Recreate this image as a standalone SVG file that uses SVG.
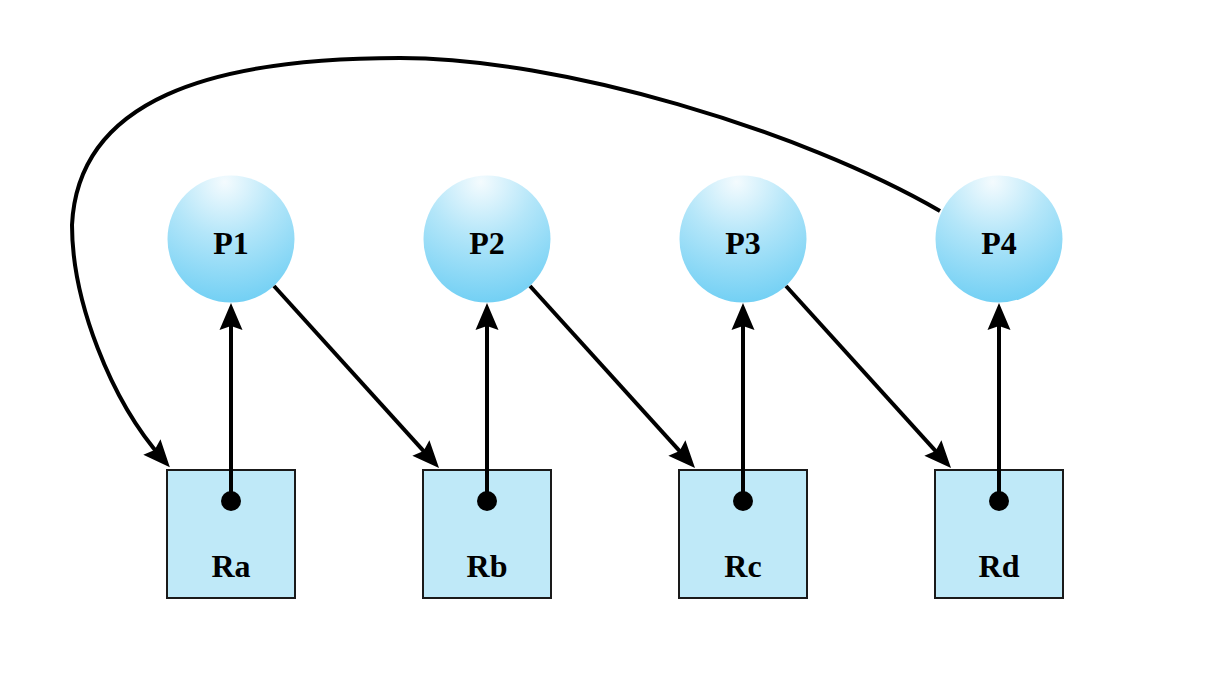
<svg xmlns="http://www.w3.org/2000/svg" width="1206" height="695" viewBox="0 0 1206 695">
<style>
.proc{fill:url(#ball)}
.res{fill:#bfe9f8;stroke:#1a1a1a;stroke-width:2}
.lbl{font-family:"Liberation Serif","Times New Roman",serif;font-weight:bold;font-size:32px;fill:#000;text-anchor:middle}
.edge{fill:none;stroke:#000;stroke-width:4;marker-end:url(#arr)}
.dot{fill:#000}
</style>
<defs>
<radialGradient id="ball" cx="0.45" cy="0.05" r="0.95" fx="0.45" fy="0.05">
<stop offset="0" stop-color="#f4fbfe"/>
<stop offset="0.45" stop-color="#b4e6f9"/>
<stop offset="1" stop-color="#73d0f4"/>
</radialGradient>
<marker id="arr" markerUnits="userSpaceOnUse" viewBox="-20 -14 34 28" markerWidth="34" markerHeight="28" refX="0" refY="0" orient="auto">
<path d="M10,0 L-17,-11.5 L-13,0 L-17,11.5 Z" fill="#000"/>
</marker>
</defs>
<rect width="1206" height="695" fill="#fff"/>
<g id="P1"><circle class="proc" cx="231" cy="239" r="63.5"/><text class="lbl" x="231" y="254">P1</text></g>
<g id="P2"><circle class="proc" cx="487" cy="239" r="63.5"/><text class="lbl" x="487" y="254">P2</text></g>
<g id="P3"><circle class="proc" cx="743" cy="239" r="63.5"/><text class="lbl" x="743" y="254">P3</text></g>
<g id="P4"><circle class="proc" cx="999" cy="239" r="63.5"/><text class="lbl" x="999" y="254">P4</text></g>
<g id="Ra"><rect class="res" x="167" y="470" width="128" height="128"/><text class="lbl" x="231" y="577">Ra</text></g>
<g id="Rb"><rect class="res" x="423" y="470" width="128" height="128"/><text class="lbl" x="487" y="577">Rb</text></g>
<g id="Rc"><rect class="res" x="679" y="470" width="128" height="128"/><text class="lbl" x="743" y="577">Rc</text></g>
<g id="Rd"><rect class="res" x="935" y="470" width="128" height="128"/><text class="lbl" x="999" y="577">Rd</text></g>
<g id="connectors">
<path class="edge" d="M231,501 V313"/>
<path class="edge" d="M487,501 V313"/>
<path class="edge" d="M743,501 V313"/>
<path class="edge" d="M999,501 V313"/>
<circle class="dot" cx="231" cy="501" r="10"/>
<circle class="dot" cx="487" cy="501" r="10"/>
<circle class="dot" cx="743" cy="501" r="10"/>
<circle class="dot" cx="999" cy="501" r="10"/>
<path class="edge" d="M274,286 L432.3,460.6"/>
<path class="edge" d="M530,286 L688.3,460.6"/>
<path class="edge" d="M786,286 L944.3,460.6"/>
<path class="edge" d="M940,211 C800,130 560,58 400,58 C210,58 78,100 72,225 C72,300 110,400 163.2,459.7"/>
</g>
</svg>
